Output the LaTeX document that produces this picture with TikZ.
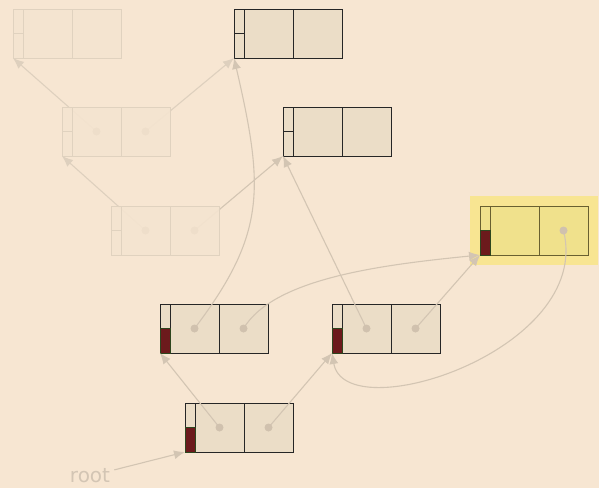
\documentclass[tikz,border=0pt]{standalone}
\usepackage{fontspec}
\setsansfont{DejaVu Sans}
\usetikzlibrary{arrows.meta}
\pgfdeclarelayer{back}
\pgfsetlayers{back,main}
\definecolor{paper}{RGB}{247,230,210}
\definecolor{cellfill}{RGB}{235,221,199}
\definecolor{edgegray}{RGB}{211,197,179}
\definecolor{ghostedge}{RGB}{222,208,190}
\definecolor{dotgray}{RGB}{208,193,174}
\definecolor{ghostfill}{RGB}{244,228,208}
\definecolor{ghostline}{RGB}{224,210,191}
\definecolor{ghostdot}{RGB}{238,222,202}
\definecolor{glow}{RGB}{248,229,146}
\definecolor{hotfill}{RGB}{240,225,140}
\definecolor{hotline}{RGB}{105,96,48}
\definecolor{bitred}{RGB}{108,26,28}
\definecolor{bitgreen}{RGB}{45,70,30}
\definecolor{rootgray}{RGB}{211,197,180}
\tikzset{
  vec/.style={minimum width=108pt, minimum height=49pt, inner sep=0pt, outer sep=0pt, anchor=north west},
  live/.style={draw=black!85, fill=cellfill, line width=1pt},
  ghost/.style={draw=ghostline, fill=ghostfill, fill opacity=0.92, line width=0.9pt},
  hot/.style={draw=hotline, fill=hotfill, line width=1pt},
  flag/.style={draw=bitgreen, fill=bitred, line width=0.9pt},
  ptr/.style={draw=edgegray, line width=1.1pt, -{Latex[length=11pt,width=9pt]}},
  oldptr/.style={ptr, draw=ghostedge},
  rootlabel/.style={text=rootgray, inner sep=4pt, font=\sffamily\fontsize{20}{24}\selectfont}
}
% one vector node: name, x, y, look
\def\vecbox#1#2#3#4{%
  \node[vec,#4] (#1) at (#2,#3) {};
  \draw[#4,fill=none] ([xshift=10pt]#1.north west) -- ([xshift=10pt]#1.south west)
    ([xshift=59pt]#1.north west) -- ([xshift=59pt]#1.south west)
    (#1.west) -- ([xshift=10pt]#1.west);
  \coordinate (#1-a) at ([xshift=34.5pt]#1.west);
  \coordinate (#1-b) at ([xshift=83.5pt]#1.west);
}
\begin{document}
\begin{tikzpicture}[x=1pt,y=-1pt]
\begin{pgfonlayer}{back}
\fill[paper] (0,0) rectangle (599,488);
\fill[glow] (470,196) rectangle (598,265);
\end{pgfonlayer}
\useasboundingbox (0,0) rectangle (599,488);
% old version, faded
\vecbox{a}{13}{9}{ghost}
\vecbox{c}{62}{107}{ghost}
\vecbox{e}{111}{206}{ghost}
% current tree
\vecbox{b}{234}{9}{live}
\vecbox{d}{283}{107}{live}
\vecbox{f}{480}{206}{hot}
\vecbox{g}{160}{304}{live}
\vecbox{h}{332}{304}{live}
\vecbox{i}{185}{403}{live}
\foreach \n in {f,g,h,i}
  \draw[flag] ([xshift=10pt]\n.west) rectangle (\n.south west);
\begin{pgfonlayer}{back}
\draw[oldptr] (c-a) -- (a.south west);
\draw[oldptr] (c-b) -- (b.south west);
\draw[oldptr] (e-a) -- (c.south west);
\draw[ptr] (e-b) -- (d.south west);
\end{pgfonlayer}
\draw[ptr] (g-a) .. controls +(72,-95) and +(30,130) .. (b.south west);
\draw[ptr] (g-b) .. controls +(30,-50) and +(-100,10) .. (f.south west);
\draw[ptr] (h-a) -- (d.south west);
\draw[ptr] (h-b) -- (f.south west);
\draw[ptr] (f-b) .. controls +(30,120) and +(13,77) .. (h.south west);
\draw[ptr] (i-a) -- (g.south west);
\draw[ptr] (i-b) -- (h.south west);
\node[rootlabel] (root) at (90,476) {root};
\draw[ptr] (root) -- (i.south west);
\foreach \p in {c-a,c-b,e-a,e-b}
  \fill[ghostdot] (\p) circle (4pt);
\foreach \p in {f-b,g-a,g-b,h-a,h-b,i-a,i-b}
  \fill[dotgray] (\p) circle (4pt);
\end{tikzpicture}
\end{document}
